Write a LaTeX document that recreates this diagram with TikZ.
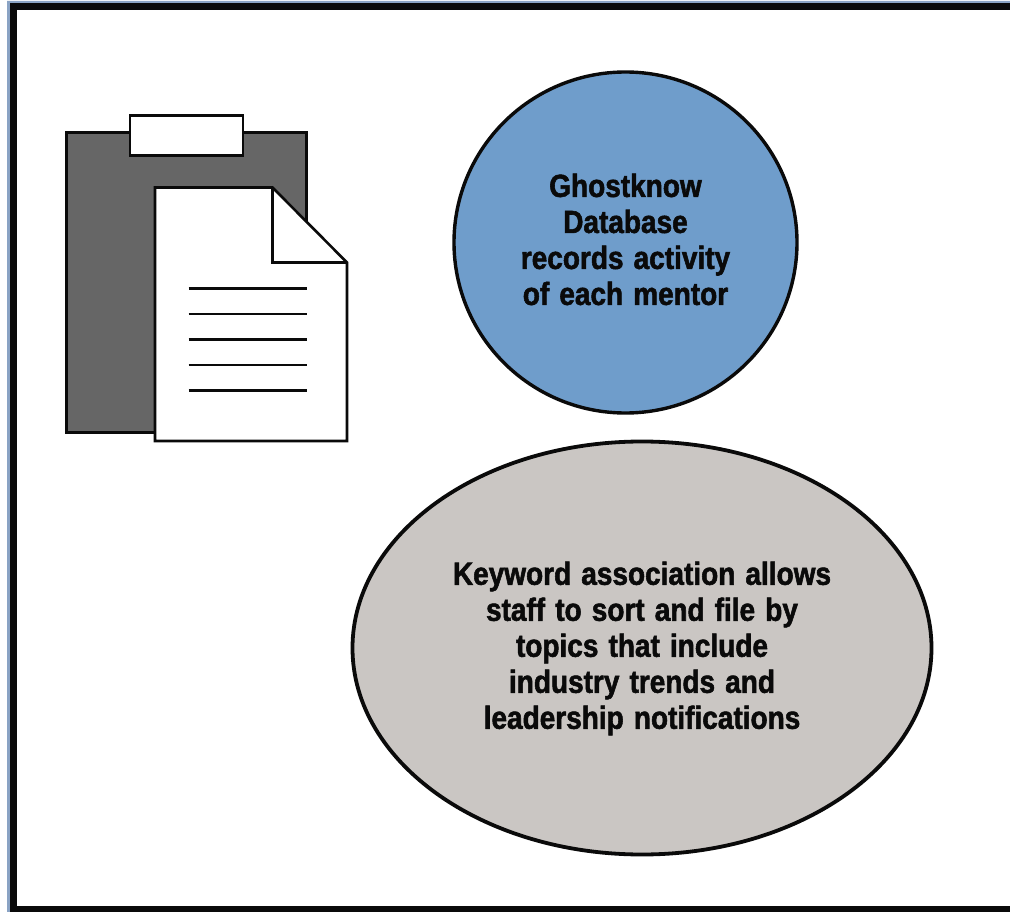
\documentclass[tikz,border=0pt]{standalone}
\usepackage{fontspec}
\setmainfont{Liberation Sans}[BoldFont={Liberation Sans Bold},BoldFeatures={FakeStretch=0.875,FakeBold=1.7,WordSpace=1.3}]
\usetikzlibrary{shapes.geometric}
\definecolor{boardgray}{HTML}{666666}
\definecolor{bluefill}{HTML}{6F9DCB}
\definecolor{grayfill}{HTML}{CAC6C3}
\definecolor{edgeblue}{HTML}{8AA3C4}
\definecolor{ink}{HTML}{0A0A0A}
\tikzset{
  every picture/.style={x=1pt,y=-1pt},
  shapeline/.style={draw=ink,line width=2.6pt,line join=miter,outer sep=0pt},
  rule/.style={draw=ink,line width=2.4pt},
  label/.style={font=\fontsize{32}{36}\selectfont\bfseries,text=ink,align=center,inner sep=0pt},
}
\begin{document}
\begin{tikzpicture}
\useasboundingbox (0,0) rectangle (1010,912);
\fill[white] (0,0) rectangle (1010,912);
\fill[edgeblue] (7,1) -- (1010,1) -- (1010,3) -- (10,3) -- (10,912) -- (7,912) -- cycle;
\draw[ink,line width=7.5pt] (1010,6.5) -- (13.5,6.5) -- (13.5,909.5) -- (1010,909.5);
% clipboard
\node[shapeline,fill=boardgray,minimum width=240pt,minimum height=300pt,inner sep=0pt,anchor=north west] (board) at (66.5,132.5) {};
\node[shapeline,fill=white,minimum width=113pt,minimum height=40pt,inner sep=0pt,anchor=north west] (clip) at (130,115.5) {};
% page
\coordinate (pa) at (155,187.5);
\coordinate (pb) at (272.5,187.5);
\coordinate (pc) at (347,262.5);
\coordinate (pd) at (347,441);
\coordinate (pe) at (155,441);
\coordinate (pf) at (272.5,262.5);
\draw[shapeline,fill=white] (pa) -- (pb) -- (pc) -- (pd) -- (pe) -- cycle;
\draw[shapeline] (pb) -- (pf) -- (pc);
\foreach \n/\y in {1/288.5,2/314,3/339.5,4/365,5/390.5}{
  \coordinate (l\n) at (188.5,\y);
  \coordinate (r\n) at (307,\y);
  \draw[rule] (l\n) -- (r\n);
}
% circle and ellipse
\node[ellipse,draw=ink,line width=3.4pt,fill=bluefill,minimum width=343pt,minimum height=341pt,inner sep=0pt,outer sep=0pt] (db) at (625.5,242.5) {};
\node[label] (dbtext) at (625.5,239.5) {Ghostknow\\Database\\records activity\\of each mentor};
\node[ellipse,draw=ink,line width=3.8pt,fill=grayfill,minimum width=579pt,minimum height=413pt,inner sep=0pt,outer sep=0pt] (kw) at (642,648) {};
\node[label] (kwtext) at (642,648.5) {Keyword association allows\\staff to sort and file by\\topics that include\\industry trends and\\leadership notifications};
\end{tikzpicture}
\end{document}
